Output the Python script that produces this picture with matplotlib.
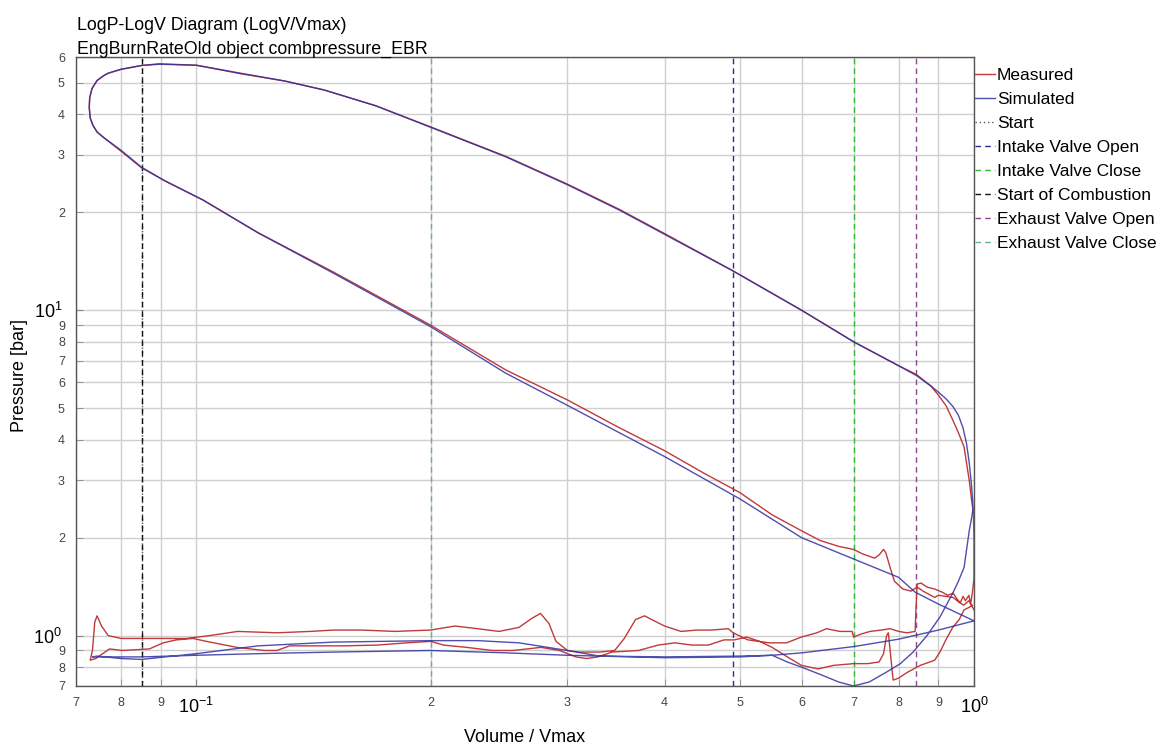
import matplotlib
matplotlib.use("Agg")
import matplotlib.pyplot as plt
from matplotlib.ticker import FixedLocator, FixedFormatter

plt.rcParams['font.family'] = ['Liberation Sans', 'DejaVu Sans']
plt.rcParams['mathtext.fontset'] = 'custom'
plt.rcParams['mathtext.rm'] = 'Liberation Sans'
plt.rcParams['mathtext.it'] = 'Liberation Sans'
plt.rcParams['mathtext.bf'] = 'Liberation Sans'

# Simulated cycle (V/Vmax, bar): compression, combustion, expansion, blowdown, exhaust, intake
sim_v = [1.0, 0.9, 0.84, 0.8, 0.7, 0.6, 0.5, 0.4, 0.3, 0.25, 0.2, 0.15, 0.12, 0.102, 0.091, 0.085,
         0.080, 0.0759, 0.0745, 0.0736, 0.0730, 0.0728, 0.0729, 0.0734, 0.0745, 0.0760, 0.077, 0.080,
         0.085, 0.0896, 0.1, 0.114, 0.13, 0.146, 0.17,
         0.2, 0.25, 0.3, 0.35, 0.4, 0.49, 0.6, 0.7, 0.8, 0.843, 0.88, 0.9, 0.92, 0.94, 0.955, 0.968,
         0.978, 0.986, 0.992, 0.996, 0.997, 0.993, 0.986, 0.971, 0.955, 0.939, 0.904, 0.87, 0.835,
         0.804, 0.77, 0.733, 0.70, 0.67, 0.634, 0.60, 0.575,
         0.55, 0.5, 0.4, 0.33, 0.3, 0.25, 0.2, 0.15, 0.12, 0.1, 0.085, 0.075, 0.0735,
         0.0745, 0.08, 0.085, 0.1, 0.12, 0.15, 0.2, 0.23, 0.26, 0.3, 0.33, 0.4, 0.5, 0.55, 0.6, 0.7,
         0.8, 0.9, 1.0]
sim_p = [1.11, 1.25, 1.36, 1.51, 1.72, 2.0, 2.63, 3.55, 5.1, 6.4, 8.9, 13.0, 17.3, 21.8, 25.0, 27.5,
         31.0, 34.0, 35.3, 37.0, 39.0, 42.0, 45.0, 48.0, 50.8, 52.6, 53.5, 55.0,
         56.5, 57.0, 56.6, 53.5, 50.6, 47.5, 42.5,
         36.5, 29.6, 24.3, 20.3, 17.1, 13.2, 10.0, 8.0, 6.75, 6.3, 5.85, 5.6, 5.35, 5.05, 4.75, 4.35,
         3.9, 3.4, 2.95, 2.6, 2.45, 2.3, 2.1, 1.62, 1.47, 1.35, 1.14, 1.0, 0.89,
         0.82, 0.77, 0.72, 0.70, 0.72, 0.76, 0.80, 0.83,
         0.87, 0.865, 0.86, 0.865, 0.87, 0.885, 0.9, 0.89, 0.88, 0.87, 0.86, 0.86, 0.86,
         0.865, 0.85, 0.845, 0.88, 0.93, 0.955, 0.965, 0.965, 0.95, 0.9, 0.865, 0.855, 0.86, 0.87, 0.885, 0.925,
         0.975, 1.04, 1.11]

# Measured cycle
meas_v = [1.0, 0.985, 0.97, 0.955, 0.94, 0.9, 0.89, 0.86, 0.845, 0.83, 0.81, 0.79, 0.78, 0.77, 0.765,
          0.755, 0.745, 0.72, 0.7, 0.67, 0.634, 0.6, 0.55, 0.5, 0.45, 0.4, 0.35, 0.3, 0.25, 0.2, 0.15,
          0.12, 0.102, 0.091, 0.085, 0.080, 0.0759, 0.0745, 0.0736, 0.0730, 0.0728, 0.0729, 0.0734,
          0.0745, 0.0760, 0.077, 0.080, 0.085, 0.0896, 0.1, 0.114, 0.13, 0.146, 0.17, 0.2, 0.25, 0.3,
          0.35, 0.4, 0.49, 0.6, 0.7, 0.8, 0.843, 0.88, 0.899,
          0.92, 0.939, 0.955, 0.971, 0.98, 0.986, 0.993, 0.998, 1.0, 1.0,
          0.995, 0.99, 0.985, 0.975, 0.968, 0.96, 0.95, 0.94, 0.925, 0.91, 0.89, 0.87, 0.855, 0.845,
          0.842, 0.84,
          0.82, 0.8, 0.78, 0.76, 0.735, 0.715, 0.70, 0.697, 0.672, 0.646, 0.628, 0.6, 0.574, 0.545, 0.512,
          0.49, 0.483, 0.46, 0.44, 0.42, 0.40, 0.385, 0.377, 0.367, 0.355, 0.345, 0.33, 0.31, 0.3, 0.29,
          0.284, 0.277, 0.27, 0.26, 0.245, 0.23, 0.215, 0.2, 0.18, 0.163, 0.15, 0.14, 0.127, 0.113, 0.104,
          0.097, 0.09, 0.08, 0.077, 0.0755, 0.0745, 0.074, 0.0735, 0.073,
          0.0742, 0.0773, 0.0803, 0.087, 0.0906, 0.0942, 0.099, 0.103, 0.1127, 0.1222, 0.1269, 0.1318,
          0.1395, 0.1546, 0.1707, 0.1863, 0.2002, 0.208, 0.2226, 0.2404, 0.2553, 0.2773, 0.293, 0.3077,
          0.3175, 0.328, 0.3424, 0.3703, 0.3924, 0.4125, 0.4336, 0.455, 0.477, 0.4917, 0.51, 0.53, 0.55,
          0.58, 0.6, 0.63, 0.66, 0.7, 0.73, 0.755, 0.765, 0.772, 0.776, 0.787, 0.8, 0.82, 0.853, 0.89,
          0.904, 0.92, 0.939, 0.957, 0.971, 0.985, 0.995]
meas_p = [1.2, 1.28, 1.24, 1.27, 1.31, 1.33, 1.31, 1.37, 1.41, 1.37, 1.39, 1.47, 1.62, 1.8, 1.84,
          1.77, 1.73, 1.78, 1.84, 1.88, 1.96, 2.1, 2.35, 2.75, 3.15, 3.7, 4.35, 5.3, 6.55, 9.0, 13.1,
          17.3, 21.8, 25.0, 27.4, 30.8, 34.0, 35.3, 37.0, 39.0, 42.0, 45.0, 48.0,
          50.8, 52.6, 53.5, 55.0, 56.5, 57.2, 56.6, 53.3, 50.6, 47.5, 42.5, 36.6, 29.7, 24.4,
          20.4, 17.2, 13.2, 10.0, 8.0, 6.75, 6.35, 5.85, 5.5,
          5.1, 4.6, 4.2, 3.8, 3.3, 3.0, 2.6, 2.4, 1.97, 1.5,
          1.35, 1.25, 1.33, 1.28, 1.32, 1.26, 1.3, 1.35, 1.33, 1.36, 1.39, 1.41, 1.45, 1.44,
          1.2, 1.03,
          1.02, 1.03, 1.05, 1.04, 1.03, 1.01, 0.99, 1.03, 1.03, 1.05, 1.02, 0.99, 0.95, 0.95, 0.97,
          1.02, 1.05, 1.04, 1.04, 1.03, 1.07, 1.12, 1.15, 1.12, 0.98, 0.9, 0.89, 0.89, 0.9, 0.96,
          1.09, 1.17, 1.13, 1.06, 1.03, 1.05, 1.07, 1.04, 1.03, 1.04, 1.04, 1.03, 1.02, 1.03, 1.0,
          0.98, 0.98, 0.98, 1.0, 1.07, 1.15, 1.1, 0.9, 0.84,
          0.85, 0.91, 0.9, 0.91, 0.95, 0.97, 0.98, 0.96, 0.92, 0.9, 0.9, 0.93,
          0.93, 0.93, 0.935, 0.95, 0.96, 0.935, 0.92, 0.9, 0.9, 0.92, 0.9, 0.86,
          0.85, 0.86, 0.89, 0.9, 0.935, 0.95, 0.935, 0.935, 0.97, 0.97, 0.99, 0.96, 0.92,
          0.85, 0.81, 0.79, 0.81, 0.82, 0.82, 0.83, 0.88, 1.0, 1.02, 0.73, 0.74, 0.77, 0.81, 0.84,
          0.89, 0.97, 1.06, 1.12, 1.2, 1.22, 1.24]

# Event markers (V/Vmax)
events = ['Start', 'Intake Valve Open', 'Intake Valve Close', 'Start of Combustion',
          'Exhaust Valve Open', 'Exhaust Valve Close']
event_v = [0.085, 0.49, 0.70, 0.085, 0.843, 0.20]
event_colors = ['#555555', '#2a2a8a', '#33bb33', '#111111', '#8a4a8a', '#66b0a0']
event_styles = [(0, (1, 2)), (0, (4, 3)), (0, (4, 3)), (0, (4, 3)), (0, (4, 3)), (0, (4, 3))]

x_major = [0.1, 1.0]
x_major_labels = ['$10^{-1}$', '$10^{0}$']
x_minor = [0.07, 0.08, 0.09, 0.2, 0.3, 0.4, 0.5, 0.6, 0.7, 0.8, 0.9]
x_minor_labels = ['7', '8', '9', '2', '3', '4', '5', '6', '7', '8', '9']
y_major = [1.0, 10.0]
y_major_labels = ['$10^{0}$', '$10^{1}$']
y_minor = [0.7, 0.8, 0.9, 2, 3, 4, 5, 6, 7, 8, 9, 20, 30, 40, 50, 60]
y_minor_labels = ['7', '8', '9', '2', '3', '4', '5', '6', '7', '8', '9', '2', '3', '4', '5', '6']

W, H = 1161, 747
fig = plt.figure(figsize=(W / 100, H / 100), dpi=100)
ax = fig.add_axes([76 / W, 1 - 686 / H, (974 - 76) / W, (686 - 57) / H])
ax.set_xscale('log')
ax.set_yscale('log')
ax.set_xlim(0.07, 1.0)
ax.set_ylim(0.7, 60)

ax.xaxis.set_major_locator(FixedLocator(x_major))
ax.xaxis.set_major_formatter(FixedFormatter(x_major_labels))
ax.xaxis.set_minor_locator(FixedLocator(x_minor))
ax.xaxis.set_minor_formatter(FixedFormatter(x_minor_labels))
ax.yaxis.set_major_locator(FixedLocator(y_major))
ax.yaxis.set_major_formatter(FixedFormatter(y_major_labels))
ax.yaxis.set_minor_locator(FixedLocator(y_minor))
ax.yaxis.set_minor_formatter(FixedFormatter(y_minor_labels))

ax.tick_params(which='major', labelsize=13, length=5, direction='in', color='#888888', pad=8)
ax.tick_params(axis='y', which='major', pad=10)
ax.tick_params(which='minor', labelsize=9, labelcolor='#444444', length=5, direction='in',
               color='#888888', pad=8)
ax.grid(which='both', color='#cfcfcf', linewidth=1.0)
ax.set_axisbelow(True)
for s in ax.spines.values():
    s.set_color('#555555')
    s.set_linewidth(1.0)

handles = []
ln, = ax.plot(meas_v, meas_p, color='#c03a3a', linewidth=1.0, label='Measured', zorder=3)
handles.append(ln)
ln, = ax.plot(sim_v, sim_p, color='#3030a0', linewidth=1.0, alpha=0.85, label='Simulated', zorder=4)
handles.append(ln)
for name, v, c, ls in zip(events, event_v, event_colors, event_styles):
    ln = ax.axvline(v, color=c, linestyle=ls, linewidth=1.0, label=name, zorder=2)
    handles.append(ln)

fig.text(525 / W, 1 - 738 / H, 'Volume / Vmax', fontsize=13, ha='center', va='center')
fig.text(20 / W, 1 - 375 / H, 'Pressure [bar]', fontsize=13, ha='center', va='center', rotation=90)

fig.text(77 / W, 1 - 30 / H, 'LogP-LogV Diagram (LogV/Vmax)', fontsize=12.75, va='baseline')
fig.text(77 / W, 1 - 54 / H, 'EngBurnRateOld object combpressure_EBR', fontsize=12.75, va='baseline')

fig.legend(handles=handles, loc='upper left', bbox_to_anchor=(975 / W, 1 - 68 / H),
           frameon=False, fontsize=12.5, handlelength=1.15, handletextpad=0.12, labelspacing=0.51,
           borderaxespad=0, borderpad=0)

fig.savefig('out.png', dpi=100)
